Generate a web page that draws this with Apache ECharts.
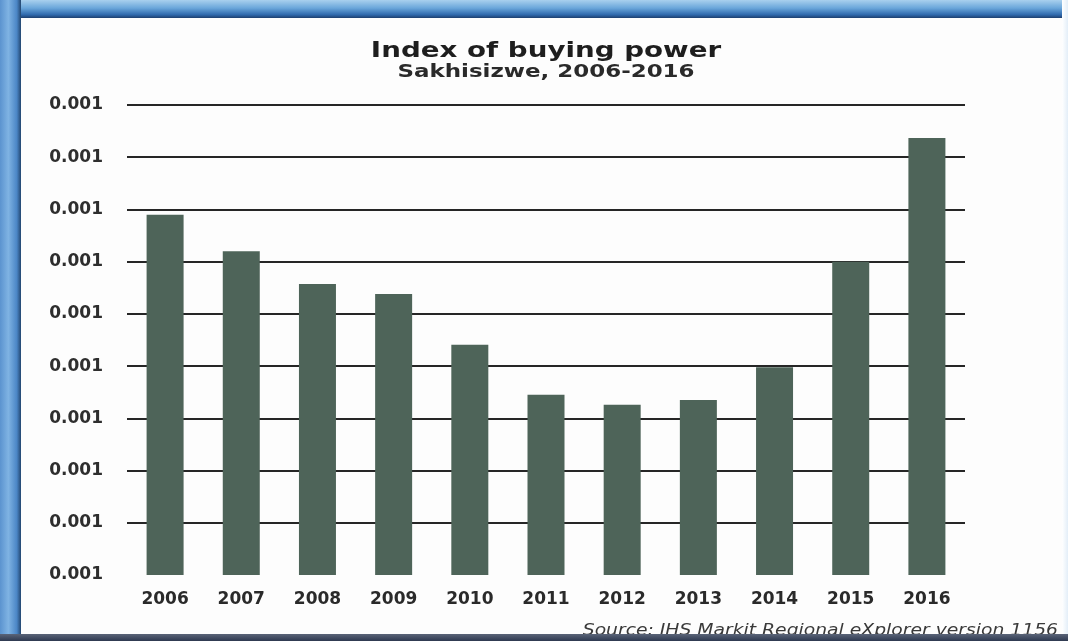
<!DOCTYPE html>
<html>
<head>
<meta charset="utf-8">
<script src="https://cdn.jsdelivr.net/npm/echarts@6/dist/echarts.min.js"></script>
<style>
  html, body { margin: 0; padding: 0; background: #ffffff; }
  #wrap { position: relative; width: 1068px; height: 641px; overflow: hidden; }
  #chart { position: absolute; left: 0; top: 0; width: 1068px; height: 641px; }
  .edge { position: absolute; pointer-events: none; }
  #edgeTop { left: 0; top: 0; width: 1068px; height: 18px;
    background: linear-gradient(to bottom, #a9d0ee 0%, #6aa6da 45%, #2f69ad 82%, #1d3f6e 100%); }
  #edgeLeft { left: 0; top: 0; width: 21px; height: 641px;
    background: linear-gradient(to right, #5b93cf 0%, #7fb3e3 40%, #4b86c6 80%, #23466f 100%); }
  #edgeBottom { left: 0; top: 634px; width: 1068px; height: 7px;
    background: linear-gradient(to bottom, #5a6478 0%, #2e3950 100%); }
  #edgeRight { left: 1062px; top: 0; width: 6px; height: 641px;
    background: linear-gradient(to right, #ffffff 0%, #e3eef8 100%); }
</style>
</head>
<body>
<div id="wrap">
  <div id="chart"></div>
  <div class="edge" id="edgeTop"></div>
  <div class="edge" id="edgeLeft"></div>
  <div class="edge" id="edgeRight"></div>
  <div class="edge" id="edgeBottom"></div>
</div>
<script>
// Index of buying power, Sakhisizwe 2006-2016
const years = ['2006', '2007', '2008', '2009', '2010', '2011', '2012', '2013', '2014', '2015', '2016'];
const buyingPower = [0.000669, 0.000662, 0.0006557, 0.0006538, 0.0006441, 0.0006345,
                     0.0006326, 0.0006335, 0.0006398, 0.00066, 0.0006837];
const axisMin = 0.00060;
const axisStep = 0.00001;
const axisMax = 0.00069;
const titleText = 'Index of buying power';
const subtitleText = 'Sakhisizwe, 2006-2016';
const sourceText = 'Source: IHS Markit Regional eXplorer version 1156';

const chart = echarts.init(document.getElementById('chart'), null, { renderer: 'canvas' });

const font = '"DejaVu Sans", Verdana, sans-serif';

chart.setOption({
  backgroundColor: '#fdfdfd',
  animation: false,
  grid: { left: 127, right: 103, top: 105, bottom: 66, containLabel: false },
  xAxis: {
    type: 'category',
    data: years,
    axisLine: { show: false },
    axisTick: { show: false },
    axisLabel: { fontFamily: font, fontSize: 17, fontWeight: 'bold', color: '#2a2a2a', margin: 16 }
  },
  yAxis: {
    type: 'value',
    min: axisMin,
    max: axisMax,
    interval: axisStep,
    axisLine: { show: false },
    axisTick: { show: false },
    axisLabel: {
      fontFamily: font, fontSize: 17, fontWeight: 'bold', color: '#2e2e2e', margin: 24,
      formatter: v => v.toFixed(3)
    },
    splitLine: { show: true, showMinLine: false, lineStyle: { color: '#262626', width: 1.8 } }
  },
  series: [{
    type: 'bar',
    data: buyingPower,
    barWidth: 37,
    itemStyle: { color: '#4e6459' }
  }],
  // wide-set heading and source line
  graphic: [
    {
      type: 'text', x: 546, y: 40, scaleX: 1.26,
      style: {
        text: titleText, textAlign: 'center', textVerticalAlign: 'top',
        font: 'bold 22px "DejaVu Sans", sans-serif', fill: '#1e1e1e'
      }
    },
    {
      type: 'text', x: 546, y: 64, scaleX: 1.35,
      style: {
        text: subtitleText, textAlign: 'center', textVerticalAlign: 'top',
        font: 'bold 17px "DejaVu Sans", sans-serif', fill: '#2a2a2a'
      }
    },
    {
      type: 'text', x: 1058, y: 624, scaleX: 1.25,
      style: {
        text: sourceText, textAlign: 'right', textVerticalAlign: 'top',
        font: 'italic 15px "DejaVu Sans", sans-serif', fill: '#3a3a3a'
      }
    }
  ]
});
</script>
</body>
</html>
